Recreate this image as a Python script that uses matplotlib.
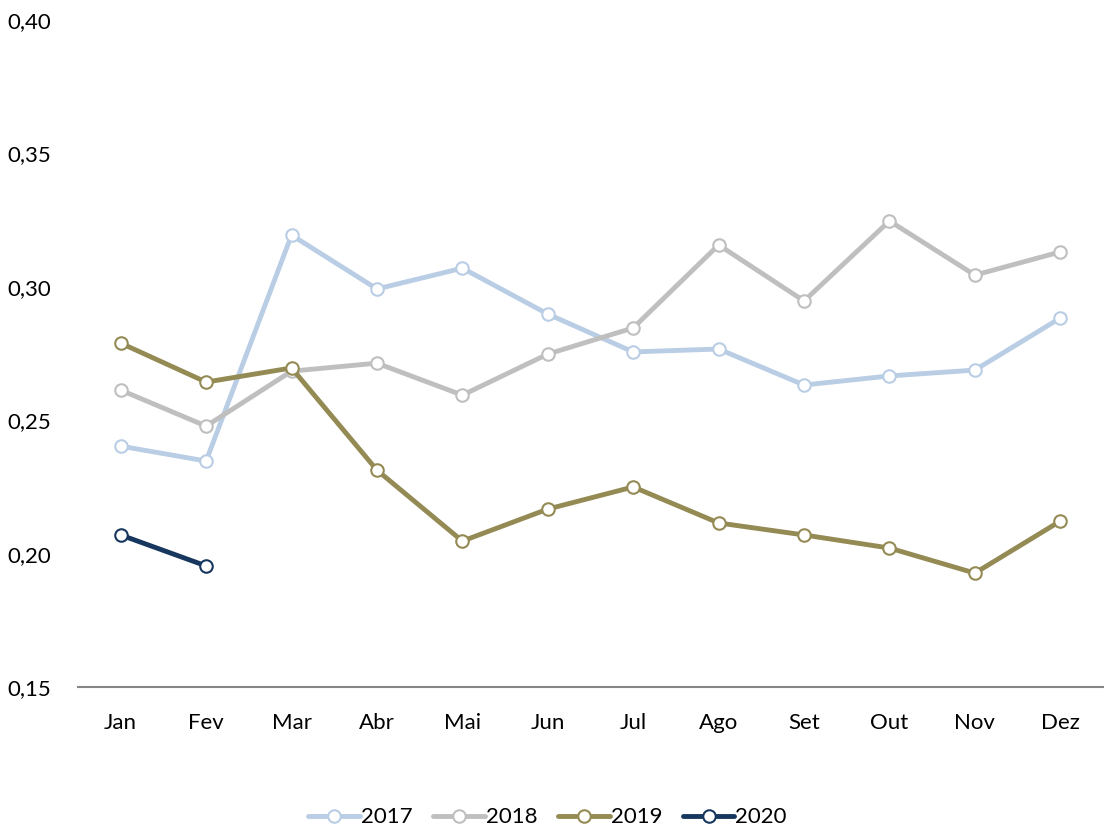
import matplotlib.pyplot as plt
from matplotlib.ticker import FuncFormatter

plt.rcParams['font.family'] = ['Lato', 'DejaVu Sans']

months = ['Jan', 'Fev', 'Mar', 'Abr', 'Mai', 'Jun', 'Jul', 'Ago', 'Set', 'Out', 'Nov', 'Dez']

v2017 = [0.2403, 0.2347, 0.3194, 0.2992, 0.3070, 0.2898, 0.2756, 0.2767, 0.2632, 0.2666, 0.2688, 0.2883]
v2018 = [0.2613, 0.2478, 0.2684, 0.2714, 0.2594, 0.2748, 0.2846, 0.3157, 0.2947, 0.3247, 0.3044, 0.3131]
v2019 = [0.2789, 0.2643, 0.2696, 0.2313, 0.2047, 0.2167, 0.2250, 0.2115, 0.2070, 0.2021, 0.1927, 0.2122]
v2020 = [0.2070, 0.1954]

series = [('2017', v2017, '#B9CDE5'),
          ('2018', v2018, '#BFBFBF'),
          ('2019', v2019, '#948A54'),
          ('2020', v2020, '#17375E')]

fig = plt.figure(figsize=(11.11, 8.35), dpi=100)
ax = fig.add_axes([0.0702, 0.1772, 0.9226, 0.7988])

for name, vals, col in series:
    ax.plot(range(len(vals)), vals, '-o', color=col, lw=3.5, ms=9,
            mfc='white', mec=col, mew=1.5, label=name,
            solid_capstyle='round')

ax.set_xlim(-0.5, 11.5)
ax.set_ylim(0.15, 0.40)
ax.set_yticks([0.15, 0.20, 0.25, 0.30, 0.35, 0.40])
ax.yaxis.set_major_formatter(FuncFormatter(lambda v, p: f'{v:.2f}'.replace('.', ',')))
ax.set_xticks(range(12))
ax.set_xticklabels(months)

for s in ['top', 'right', 'left']:
    ax.spines[s].set_visible(False)
ax.spines['bottom'].set_color('#868686')
ax.spines['bottom'].set_linewidth(1.5)
ax.tick_params(axis='both', length=0, labelsize=16, colors='black')
ax.tick_params(axis='y', pad=19)
ax.tick_params(axis='x', pad=19)

fig.legend(loc='center', bbox_to_anchor=(0.493, 0.021), ncol=4, frameon=False,
           fontsize=16, handlelength=2.3, handletextpad=0.05, columnspacing=0.95)

fig.savefig('out.png', dpi=100)
